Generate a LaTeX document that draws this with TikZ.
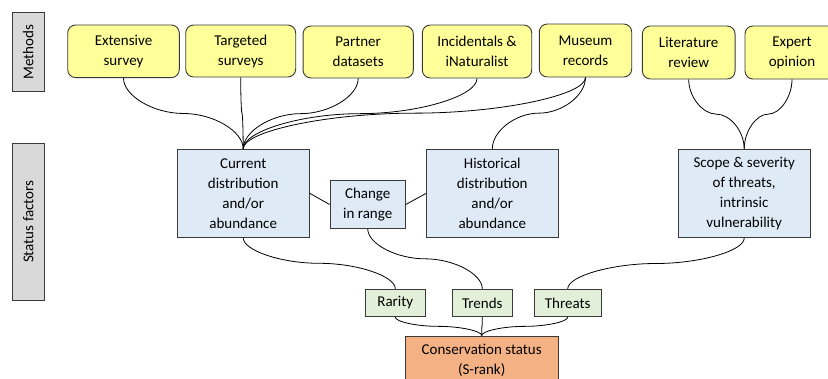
\documentclass[tikz,border=0pt]{standalone}
\usepackage{fontspec}
\setmainfont{Carlito}
\usetikzlibrary{calc}
\definecolor{yfill}{HTML}{FFFF99}
\definecolor{bfill}{HTML}{DEEBF7}
\definecolor{gfill}{HTML}{E2F0D9}
\definecolor{ofill}{HTML}{F4B183}
\definecolor{grfill}{HTML}{D9D9D9}
\definecolor{edge}{HTML}{3A3A3A}
\begin{document}
\begin{tikzpicture}[x=1pt,y=1pt,
  base/.style={draw=edge,line width=0.9pt,align=center,inner sep=0pt,
    font=\fontsize{15}{20}\selectfont},
  meth/.style={base,fill=yfill,rounded corners=8pt},
  fact/.style={base,fill=bfill},
  sumb/.style={base,fill=gfill},
  fin/.style={base,fill=ofill},
  side/.style={base,fill=grfill},
  conn/.style={line width=0.8pt,black},
  sc/.style={to path={let \p1=(\tikztostart),\p2=(\tikztotarget) in
    .. controls (\x1,{(3*\y1+\y2)/4}) and ({(3*\x1+\x2)/4},{(\y1+\y2)/2}) ..
    ({(\x1+\x2)/2},{(\y1+\y2)/2})
    .. controls ({(\x1+3*\x2)/4},{(\y1+\y2)/2}) and (\x2,{(\y1+3*\y2)/4}) ..
    (\tikztotarget)}}]
\useasboundingbox (0,0) rectangle (828,-378);
% side labels
\node[side,minimum width=31.7pt,minimum height=79.4pt] (lm) at (28.2,-52) {};
\node[rotate=90,font=\fontsize{15}{20}\selectfont] (lmt) at (lm.center) {Methods};
\node[side,minimum width=31.7pt,minimum height=156.7pt] (ls) at (28.2,-221.7) {};
\node[rotate=90,font=\fontsize{15}{20}\selectfont] (lst) at (ls.center) {Status factors};
% methods
\node[meth,minimum width=111.6pt,minimum height=52.7pt] (ext) at (123.5,-51.3) {Extensive\\survey};
\node[meth,minimum width=110pt,minimum height=52pt] (tar) at (240.7,-51) {Targeted\\surveys};
\node[meth,minimum width=110.3pt,minimum height=52pt] (par) at (358.2,-52) {Partner\\datasets};
\node[meth,minimum width=109.4pt,minimum height=53pt] (inc) at (477,-51.5) {Incidentals \&\\iNaturalist};
\node[meth,minimum width=92.4pt,minimum height=53pt] (mus) at (585.5,-50.5) {Museum\\records};
\node[meth,minimum width=92.7pt,minimum height=53pt] (lit) at (688.7,-52.5) {Literature\\review};
\node[meth,minimum width=94pt,minimum height=53pt] (exp) at (792,-52.5) {Expert\\opinion};
% factors
\node[fact,minimum width=132.3pt,minimum height=88pt] (cur) at (243.2,-193.3) {Current\\distribution\\and/or\\abundance};
\node[fact,minimum width=75.3pt,minimum height=47.6pt] (chg) at (367.7,-204.5) {Change\\in range};
\node[fact,minimum width=132pt,minimum height=88.4pt] (his) at (492.3,-193.5) {Historical\\distribution\\and/or\\abundance};
\node[fact,minimum width=131.7pt,minimum height=88.4pt] (sco) at (744.2,-193.5) {Scope \& severity\\of threats,\\intrinsic\\vulnerability};
% summaries
\node[sumb,minimum width=59.3pt,minimum height=27.4pt] (rar) at (395.3,-303) {Rarity};
\node[sumb,minimum width=60pt,minimum height=27.4pt] (tre) at (482.3,-303) {Trends};
\node[sumb,minimum width=67.3pt,minimum height=27.4pt] (thr) at (567.7,-303) {Threats};
\node[fin,minimum width=153.3pt,minimum height=48pt] (con) at (481.7,-360) {Conservation status\\(S-rank)};
% connectors
\foreach \s in {ext,tar,par,inc,mus}{\draw[conn] (\s.south) to[sc] (cur.north);}
\draw[conn] (mus.south) to[sc] (his.north);
\draw[conn] (lit.south) to[sc] (sco.north);
\draw[conn] (exp.south) to[sc] (sco.north);
\draw[conn] (cur.east) -- (chg.west);
\draw[conn] (chg.east) -- (his.west);
\draw[conn] (cur.south) to[sc] (rar.north);
\draw[conn] (chg.south) to[sc] (tre.north);
\draw[conn] (sco.south) to[sc] (thr.north);
\foreach \s in {rar,tre,thr}{\draw[conn] (\s.south) to[sc] (con.north);}
\end{tikzpicture}
\end{document}
